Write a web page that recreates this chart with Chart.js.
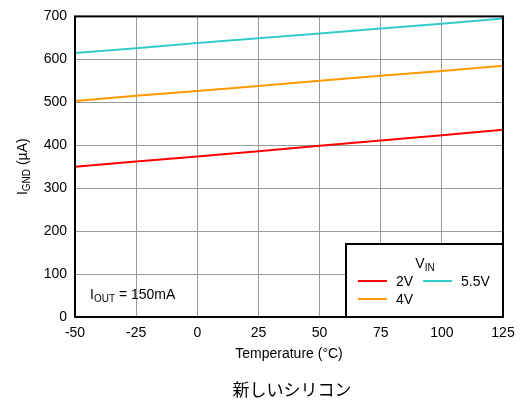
<!DOCTYPE html>
<html>
<head>
<meta charset="utf-8">
<script src="https://cdn.jsdelivr.net/npm/chart.js@4.4.1/dist/chart.umd.min.js"></script>
<style>
html,body{margin:0;padding:0;background:#fff;}
canvas{display:block;}
</style>
</head>
<body>
<canvas id="c" width="523" height="404"></canvas>
<script>
const temperatures = [-50, -25, 0, 25, 50, 75, 100, 125];
const vin2V = [350, 362, 374, 386, 399, 411, 423, 436];
const vin4V = [503, 515, 526, 538, 550, 562, 573, 585];
const vin55V = [615, 626, 638, 649, 660, 672, 683, 695];
const seriesLabels = ['2V', '4V', '5.5V'];
const seriesColors = ['#ff0000', '#ff9900', '#33cccc'];
const xTitle = 'Temperature (°C)';
const caption = '新しいシリコン';
const FONT = '"Liberation Sans", Arial, sans-serif';

function toPts(ys){ return temperatures.map((t,i)=>({x:t,y:ys[i]})); }

function drawSub(ctx, parts, x, y, align){
  // parts: [[text, isSub]]
  let w = 0;
  parts.forEach(p=>{ ctx.font = (p[1]? '10px ':'14px ') + FONT; w += ctx.measureText(p[0]).width; });
  let cx = align === 'center' ? x - w/2 : x;
  ctx.textAlign = 'left';
  ctx.textBaseline = 'alphabetic';
  parts.forEach(p=>{
    ctx.font = (p[1]? '10px ':'14px ') + FONT;
    ctx.fillText(p[0], cx, y + (p[1]?3:0));
    cx += ctx.measureText(p[0]).width;
  });
}

const decor = {
  id:'decor',
  afterDraw(chart){
    const ctx = chart.ctx, a = chart.chartArea;
    ctx.save();
    ctx.fillStyle = '#000';
    // y title
    ctx.save();
    ctx.translate(27, (a.top+a.bottom)/2);
    ctx.rotate(-Math.PI/2);
    drawSub(ctx, [['I',0],['GND',1],[' (µA)',0]], 0, 0, 'center');
    ctx.restore();
    // x title
    ctx.font = '14px ' + FONT;
    ctx.textAlign = 'center';
    ctx.textBaseline = 'middle';
    ctx.fillText(xTitle, (a.left+a.right)/2, 354);
    // caption
    ctx.font = '17px "Noto Sans CJK JP", sans-serif';
    ctx.fillText(caption, 292, 390);
    // annotation
    drawSub(ctx, [['I',0],['OUT',1],[' = 150mA',0]], 90, 299, 'left');
    // legend box
    const lx = 346, ly = 244, lw = a.right - lx, lh = a.bottom - ly;
    ctx.fillStyle = '#fff';
    ctx.fillRect(lx, ly, lw, lh);
    ctx.strokeStyle = '#000';
    ctx.lineWidth = 2;
    ctx.strokeRect(lx, ly, lw, lh);
    ctx.fillStyle = '#000';
    drawSub(ctx, [['V',0],['IN',1]], 425, 268, 'center');
    const items = [
      {i:0, x:358, y:281},
      {i:2, x:423, y:281},
      {i:1, x:358, y:299}
    ];
    items.forEach(it=>{
      ctx.strokeStyle = seriesColors[it.i];
      ctx.lineWidth = 2;
      ctx.beginPath(); ctx.moveTo(it.x, it.y); ctx.lineTo(it.x+29, it.y); ctx.stroke();
      ctx.font = '14px ' + FONT;
      ctx.textAlign = 'left';
      ctx.textBaseline = 'middle';
      ctx.fillText(seriesLabels[it.i], it.x+38, it.y+1);
    });
    // plot border
    ctx.strokeStyle = '#000';
    ctx.lineWidth = 2;
    ctx.strokeRect(a.left, a.top, a.right-a.left, a.bottom-a.top);
    ctx.restore();
  }
};

new Chart(document.getElementById('c'), {
  type:'line',
  data:{
    datasets:[
      {label:seriesLabels[0], data:toPts(vin2V), borderColor:seriesColors[0], borderWidth:2, pointRadius:0, tension:0},
      {label:seriesLabels[1], data:toPts(vin4V), borderColor:seriesColors[1], borderWidth:2, pointRadius:0, tension:0},
      {label:seriesLabels[2], data:toPts(vin55V), borderColor:seriesColors[2], borderWidth:2, pointRadius:0, tension:0}
    ]
  },
  options:{
    responsive:false,
    animation:false,
    devicePixelRatio:1,
    layout:{padding:{left:0, top:14, right:20, bottom:0}},
    plugins:{legend:{display:false}, tooltip:{enabled:false}},
    scales:{
      x:{
        type:'linear', min:-50, max:125,
        afterFit(s){ s.height = 87; },
        ticks:{stepSize:25, color:'#000', font:{family:FONT, size:14}, padding:8, maxRotation:0},
        grid:{color:'#999', lineWidth:1, drawTicks:false},
        border:{display:false}
      },
      y:{
        min:0, max:700,
        afterFit(s){ s.width = 75; },
        ticks:{stepSize:100, color:'#000', font:{family:FONT, size:14}, padding:8},
        grid:{color:'#999', lineWidth:1, drawTicks:false},
        border:{display:false}
      }
    }
  },
  plugins:[decor]
});
</script>
</body>
</html>
